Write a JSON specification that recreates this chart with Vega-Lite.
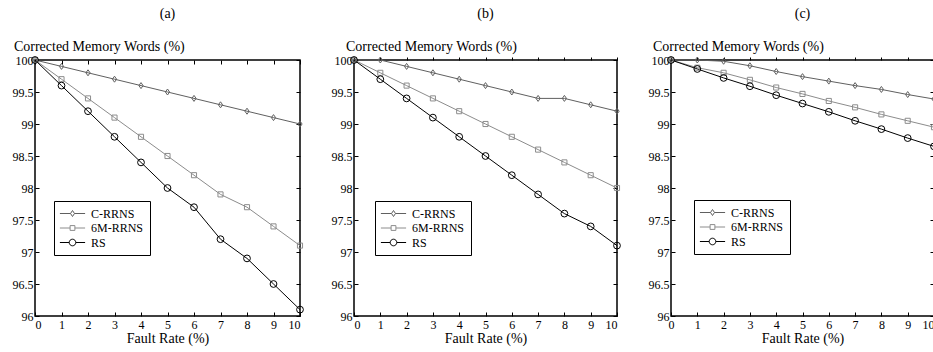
{
  "$schema": "https://vega.github.io/schema/vega-lite/v6.json",
  "padding": {"left": 11, "top": 5, "right": 0, "bottom": 0},
  "bounds": "flush",
  "spacing": 54,
  "resolve": {"scale": {"stroke": "independent"}},
  "config": {
    "font": "Liberation Serif, Times New Roman, serif",
    "view": {"stroke": "black", "strokeWidth": 1.5},
    "title": {"font": "Liberation Serif, Times New Roman, serif", "fontSize": 14, "fontWeight": "normal", "color": "black", "offset": 19},
    "axis": {
      "labelFont": "Liberation Serif, Times New Roman, serif", "labelFontSize": 12, "labelColor": "black",
      "titleFont": "Liberation Serif, Times New Roman, serif", "titleFontSize": 14, "titleFontWeight": "normal", "titleColor": "black",
      "tickColor": "black", "tickSize": -4, "domain": false, "grid": false
    },
    "legend": {
      "labelFont": "Liberation Serif, Times New Roman, serif", "labelFontSize": 12, "labelColor": "black",
      "orient": "none", "legendY": 141, "title": null, "strokeColor": "black", "fillColor": "white", "padding": 6, "rowPadding": 1.5, "symbolSize": 144, "symbolStrokeWidth": 1, "symbolFillColor": "transparent", "labelOffset": 18,
      "symbolType": {"expr": "datum.value === 'C-RRNS' ? 'M-1.1,0L0.67,0M1.33,0L3.1,0M1,-0.5L1.33,0L1,0.5L0.67,0Z' : datum.value === '6M-RRNS' ? 'M-1.1,0L0.6,0M1.4,0L3.1,0M0.6,-0.4L1.4,-0.4L1.4,0.4L0.6,0.4Z' : 'M-1.1,0L0.45,0M1.55,0L3.1,0M1.55,0A0.55,0.55,0,1,1,0.45,0A0.55,0.55,0,1,1,1.55,0'"}
    }
  },
  "datasets": {
    "a": [
      {"s": "C-RRNS", "x": 0, "y": 100}, {"s": "C-RRNS", "x": 1, "y": 99.9}, {"s": "C-RRNS", "x": 2, "y": 99.8}, {"s": "C-RRNS", "x": 3, "y": 99.7}, {"s": "C-RRNS", "x": 4, "y": 99.6}, {"s": "C-RRNS", "x": 5, "y": 99.5}, {"s": "C-RRNS", "x": 6, "y": 99.4}, {"s": "C-RRNS", "x": 7, "y": 99.3}, {"s": "C-RRNS", "x": 8, "y": 99.2}, {"s": "C-RRNS", "x": 9, "y": 99.1}, {"s": "C-RRNS", "x": 10, "y": 99.0},
      {"s": "6M-RRNS", "x": 0, "y": 100}, {"s": "6M-RRNS", "x": 1, "y": 99.7}, {"s": "6M-RRNS", "x": 2, "y": 99.4}, {"s": "6M-RRNS", "x": 3, "y": 99.1}, {"s": "6M-RRNS", "x": 4, "y": 98.8}, {"s": "6M-RRNS", "x": 5, "y": 98.5}, {"s": "6M-RRNS", "x": 6, "y": 98.2}, {"s": "6M-RRNS", "x": 7, "y": 97.9}, {"s": "6M-RRNS", "x": 8, "y": 97.7}, {"s": "6M-RRNS", "x": 9, "y": 97.4}, {"s": "6M-RRNS", "x": 10, "y": 97.1},
      {"s": "RS", "x": 0, "y": 100}, {"s": "RS", "x": 1, "y": 99.6}, {"s": "RS", "x": 2, "y": 99.2}, {"s": "RS", "x": 3, "y": 98.8}, {"s": "RS", "x": 4, "y": 98.4}, {"s": "RS", "x": 5, "y": 98.0}, {"s": "RS", "x": 6, "y": 97.7}, {"s": "RS", "x": 7, "y": 97.2}, {"s": "RS", "x": 8, "y": 96.9}, {"s": "RS", "x": 9, "y": 96.5}, {"s": "RS", "x": 10, "y": 96.1}
    ],
    "b": [
      {"s": "C-RRNS", "x": 0, "y": 100}, {"s": "C-RRNS", "x": 1, "y": 100}, {"s": "C-RRNS", "x": 2, "y": 99.9}, {"s": "C-RRNS", "x": 3, "y": 99.8}, {"s": "C-RRNS", "x": 4, "y": 99.7}, {"s": "C-RRNS", "x": 5, "y": 99.6}, {"s": "C-RRNS", "x": 6, "y": 99.5}, {"s": "C-RRNS", "x": 7, "y": 99.4}, {"s": "C-RRNS", "x": 8, "y": 99.4}, {"s": "C-RRNS", "x": 9, "y": 99.3}, {"s": "C-RRNS", "x": 10, "y": 99.2},
      {"s": "6M-RRNS", "x": 0, "y": 100}, {"s": "6M-RRNS", "x": 1, "y": 99.8}, {"s": "6M-RRNS", "x": 2, "y": 99.6}, {"s": "6M-RRNS", "x": 3, "y": 99.4}, {"s": "6M-RRNS", "x": 4, "y": 99.2}, {"s": "6M-RRNS", "x": 5, "y": 99.0}, {"s": "6M-RRNS", "x": 6, "y": 98.8}, {"s": "6M-RRNS", "x": 7, "y": 98.6}, {"s": "6M-RRNS", "x": 8, "y": 98.4}, {"s": "6M-RRNS", "x": 9, "y": 98.2}, {"s": "6M-RRNS", "x": 10, "y": 98.0},
      {"s": "RS", "x": 0, "y": 100}, {"s": "RS", "x": 1, "y": 99.7}, {"s": "RS", "x": 2, "y": 99.4}, {"s": "RS", "x": 3, "y": 99.1}, {"s": "RS", "x": 4, "y": 98.8}, {"s": "RS", "x": 5, "y": 98.5}, {"s": "RS", "x": 6, "y": 98.2}, {"s": "RS", "x": 7, "y": 97.9}, {"s": "RS", "x": 8, "y": 97.6}, {"s": "RS", "x": 9, "y": 97.4}, {"s": "RS", "x": 10, "y": 97.1}
    ],
    "c": [
      {"s": "C-RRNS", "x": 0, "y": 100}, {"s": "C-RRNS", "x": 1, "y": 100}, {"s": "C-RRNS", "x": 2, "y": 99.98}, {"s": "C-RRNS", "x": 3, "y": 99.91}, {"s": "C-RRNS", "x": 4, "y": 99.82}, {"s": "C-RRNS", "x": 5, "y": 99.74}, {"s": "C-RRNS", "x": 6, "y": 99.67}, {"s": "C-RRNS", "x": 7, "y": 99.6}, {"s": "C-RRNS", "x": 8, "y": 99.54}, {"s": "C-RRNS", "x": 9, "y": 99.46}, {"s": "C-RRNS", "x": 10, "y": 99.39},
      {"s": "6M-RRNS", "x": 0, "y": 100}, {"s": "6M-RRNS", "x": 1, "y": 99.88}, {"s": "6M-RRNS", "x": 2, "y": 99.8}, {"s": "6M-RRNS", "x": 3, "y": 99.69}, {"s": "6M-RRNS", "x": 4, "y": 99.57}, {"s": "6M-RRNS", "x": 5, "y": 99.47}, {"s": "6M-RRNS", "x": 6, "y": 99.36}, {"s": "6M-RRNS", "x": 7, "y": 99.26}, {"s": "6M-RRNS", "x": 8, "y": 99.15}, {"s": "6M-RRNS", "x": 9, "y": 99.05}, {"s": "6M-RRNS", "x": 10, "y": 98.95},
      {"s": "RS", "x": 0, "y": 100}, {"s": "RS", "x": 1, "y": 99.86}, {"s": "RS", "x": 2, "y": 99.72}, {"s": "RS", "x": 3, "y": 99.59}, {"s": "RS", "x": 4, "y": 99.45}, {"s": "RS", "x": 5, "y": 99.32}, {"s": "RS", "x": 6, "y": 99.19}, {"s": "RS", "x": 7, "y": 99.05}, {"s": "RS", "x": 8, "y": 98.92}, {"s": "RS", "x": 9, "y": 98.78}, {"s": "RS", "x": 10, "y": 98.65}
    ]
  },
  "hconcat": [
    {
      "data": {"name": "a"},
      "width": 265, "height": 256,
      "title": {"text": "(a)"},
      "layer": [
        {
          "mark": {"type": "line", "strokeWidth": 1},
          "encoding": {
            "x": {"field": "x", "type": "quantitative", "scale": {"domain": [0, 10], "nice": false, "zero": false},
                  "axis": {"orient": "bottom", "values": [0,1,2,3,4,5,6,7,8,9,10], "labelPadding": 7.5, "title": "Fault Rate (%)", "titlePadding": 1}},
            "y": {"field": "y", "type": "quantitative", "scale": {"domain": [96, 100], "nice": false, "zero": false},
                  "axis": {"orient": "left", "values": [96,96.5,97,97.5,98,98.5,99,99.5,100], "format": "~f", "labelPadding": 6, "title": "Corrected Memory Words (%)", "titleAngle": 0, "titleAlign": "left", "titleBaseline": "alphabetic", "titleX": -21.6, "titleY": -9.5}},
            "stroke": {"field": "s", "type": "nominal", "scale": {"domain": ["C-RRNS", "6M-RRNS", "RS"], "range": ["#606060", "#8c8c8c", "#000000"]}, "legend": {"legendX": 19}}
          }
        },
        {
          "transform": [{"filter": "datum.s === 'C-RRNS'"}],
          "mark": {"type": "point", "filled": false, "strokeWidth": 1, "opacity": 1, "shape": "M0,-1L0.7,0L0,1L-0.7,0Z", "size": 36, "color": "#606060"},
          "encoding": {"x": {"field": "x", "type": "quantitative", "axis": null}, "y": {"field": "y", "type": "quantitative", "axis": null}}
        },
        {
          "transform": [{"filter": "datum.s === '6M-RRNS'"}],
          "mark": {"type": "point", "filled": false, "strokeWidth": 1, "opacity": 1, "shape": "square", "size": 26, "color": "#8c8c8c"},
          "encoding": {"x": {"field": "x", "type": "quantitative", "axis": null}, "y": {"field": "y", "type": "quantitative", "axis": null}}
        },
        {
          "transform": [{"filter": "datum.s === 'RS'"}],
          "mark": {"type": "point", "filled": false, "strokeWidth": 1, "opacity": 1, "shape": "circle", "size": 46, "color": "#000000"},
          "encoding": {"x": {"field": "x", "type": "quantitative", "axis": null}, "y": {"field": "y", "type": "quantitative", "axis": null}}
        },
        {
          "transform": [{"filter": "false"}],
          "mark": {"type": "point", "opacity": 0},
          "encoding": {
            "x": {"field": "x", "type": "quantitative", "axis": {"orient": "top", "labels": false, "title": null, "values": [0,1,2,3,4,5,6,7,8,9,10]}},
            "y": {"field": "y", "type": "quantitative", "axis": {"orient": "right", "labels": false, "title": null, "values": [96,96.5,97,97.5,98,98.5,99,99.5,100]}}
          }
        }
      ],
      "resolve": {"axis": {"x": "independent", "y": "independent"}}
    },
    {
      "data": {"name": "b"},
      "width": 263, "height": 256,
      "title": {"text": "(b)"},
      "layer": [
        {
          "mark": {"type": "line", "strokeWidth": 1},
          "encoding": {
            "x": {"field": "x", "type": "quantitative", "scale": {"domain": [0, 10], "nice": false, "zero": false},
                  "axis": {"orient": "bottom", "values": [0,1,2,3,4,5,6,7,8,9,10], "labelPadding": 7.5, "title": "Fault Rate (%)", "titlePadding": 1}},
            "y": {"field": "y", "type": "quantitative", "scale": {"domain": [96, 100], "nice": false, "zero": false},
                  "axis": {"orient": "left", "values": [96,96.5,97,97.5,98,98.5,99,99.5,100], "format": "~f", "labelPadding": 6, "title": "Corrected Memory Words (%)", "titleAngle": 0, "titleAlign": "left", "titleBaseline": "alphabetic", "titleX": -8.5, "titleY": -9.5}},
            "stroke": {"field": "s", "type": "nominal", "scale": {"domain": ["C-RRNS", "6M-RRNS", "RS"], "range": ["#606060", "#8c8c8c", "#000000"]}, "legend": {"legendX": 21}}
          }
        },
        {
          "transform": [{"filter": "datum.s === 'C-RRNS'"}],
          "mark": {"type": "point", "filled": false, "strokeWidth": 1, "opacity": 1, "shape": "M0,-1L0.7,0L0,1L-0.7,0Z", "size": 36, "color": "#606060"},
          "encoding": {"x": {"field": "x", "type": "quantitative", "axis": null}, "y": {"field": "y", "type": "quantitative", "axis": null}}
        },
        {
          "transform": [{"filter": "datum.s === '6M-RRNS'"}],
          "mark": {"type": "point", "filled": false, "strokeWidth": 1, "opacity": 1, "shape": "square", "size": 26, "color": "#8c8c8c"},
          "encoding": {"x": {"field": "x", "type": "quantitative", "axis": null}, "y": {"field": "y", "type": "quantitative", "axis": null}}
        },
        {
          "transform": [{"filter": "datum.s === 'RS'"}],
          "mark": {"type": "point", "filled": false, "strokeWidth": 1, "opacity": 1, "shape": "circle", "size": 46, "color": "#000000"},
          "encoding": {"x": {"field": "x", "type": "quantitative", "axis": null}, "y": {"field": "y", "type": "quantitative", "axis": null}}
        },
        {
          "transform": [{"filter": "false"}],
          "mark": {"type": "point", "opacity": 0},
          "encoding": {
            "x": {"field": "x", "type": "quantitative", "axis": {"orient": "top", "labels": false, "title": null, "tickSize": 3, "values": [0,1,2,3,4,5,6,7,8,9,10]}},
            "y": {"field": "y", "type": "quantitative", "axis": {"orient": "right", "labels": false, "title": null, "values": [96,96.5,97,97.5,98,98.5,99,99.5,100]}}
          }
        }
      ],
      "resolve": {"axis": {"x": "independent", "y": "independent"}}
    },
    {
      "data": {"name": "c"},
      "width": 263, "height": 256,
      "title": {"text": "(c)"},
      "layer": [
        {
          "mark": {"type": "line", "strokeWidth": 1},
          "encoding": {
            "x": {"field": "x", "type": "quantitative", "scale": {"domain": [0, 10], "nice": false, "zero": false},
                  "axis": {"orient": "bottom", "values": [0,1,2,3,4,5,6,7,8,9,10], "labelPadding": 7.5, "labelAlign": {"condition": {"test": "datum.value === 10", "value": "right"}, "value": "center"}, "title": "Fault Rate (%)", "titlePadding": 1}},
            "y": {"field": "y", "type": "quantitative", "scale": {"domain": [96, 100], "nice": false, "zero": false},
                  "axis": {"orient": "left", "values": [96,96.5,97,97.5,98,98.5,99,99.5,100], "format": "~f", "labelPadding": 6, "title": "Corrected Memory Words (%)", "titleAngle": 0, "titleAlign": "left", "titleBaseline": "alphabetic", "titleX": -18.5, "titleY": -9.5}},
            "stroke": {"field": "s", "type": "nominal", "scale": {"domain": ["C-RRNS", "6M-RRNS", "RS"], "range": ["#606060", "#8c8c8c", "#000000"]}, "legend": {"legendX": 23, "legendY": 140}}
          }
        },
        {
          "transform": [{"filter": "datum.s === 'C-RRNS'"}],
          "mark": {"type": "point", "filled": false, "strokeWidth": 1, "opacity": 1, "shape": "M0,-1L0.7,0L0,1L-0.7,0Z", "size": 36, "color": "#606060"},
          "encoding": {"x": {"field": "x", "type": "quantitative", "axis": null}, "y": {"field": "y", "type": "quantitative", "axis": null}}
        },
        {
          "transform": [{"filter": "datum.s === '6M-RRNS'"}],
          "mark": {"type": "point", "filled": false, "strokeWidth": 1, "opacity": 1, "shape": "square", "size": 26, "color": "#8c8c8c"},
          "encoding": {"x": {"field": "x", "type": "quantitative", "axis": null}, "y": {"field": "y", "type": "quantitative", "axis": null}}
        },
        {
          "transform": [{"filter": "datum.s === 'RS'"}],
          "mark": {"type": "point", "filled": false, "strokeWidth": 1, "opacity": 1, "shape": "circle", "size": 46, "color": "#000000"},
          "encoding": {"x": {"field": "x", "type": "quantitative", "axis": null}, "y": {"field": "y", "type": "quantitative", "axis": null}}
        },
        {
          "transform": [{"filter": "false"}],
          "mark": {"type": "point", "opacity": 0},
          "encoding": {
            "x": {"field": "x", "type": "quantitative", "axis": {"orient": "top", "labels": false, "title": null, "tickSize": 3, "values": [0,1,2,3,4,5,6,7,8,9,10]}},
            "y": {"field": "y", "type": "quantitative", "axis": {"orient": "right", "labels": false, "title": null, "values": [96,96.5,97,97.5,98,98.5,99,99.5,100]}}
          }
        }
      ],
      "resolve": {"axis": {"x": "independent", "y": "independent"}}
    }
  ]
}
